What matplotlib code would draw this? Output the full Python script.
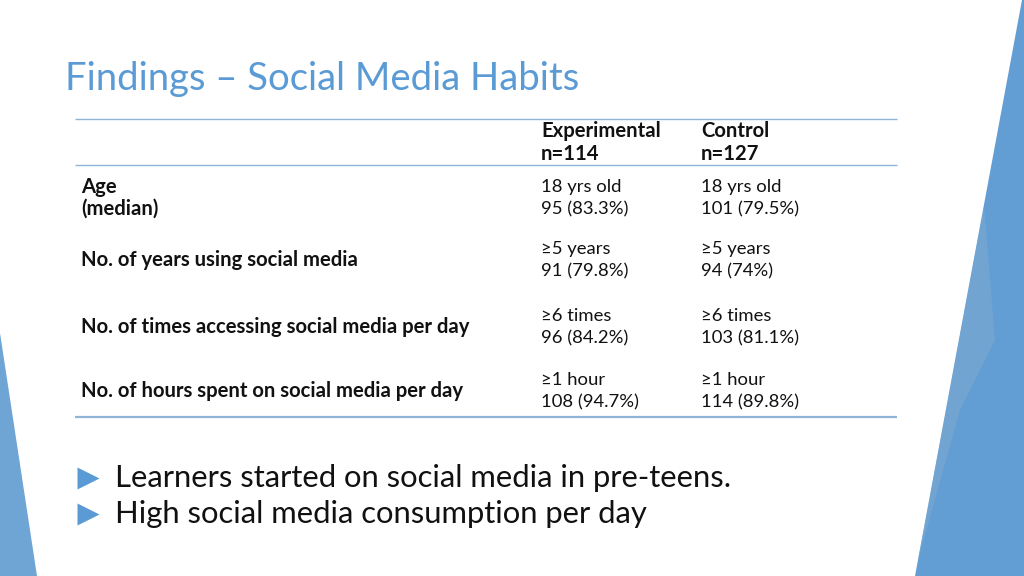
import matplotlib
matplotlib.use("Agg")
import matplotlib.pyplot as plt
from matplotlib.patches import Polygon

# ---- slide content ----
title = "Findings \u2013 Social Media Habits"
col_heads = [("Experimental", "n=114"), ("Control", "n=127")]
row_labels = [("Age", "(median)"),
              ("No. of years using social media",),
              ("No. of times accessing social media per day",),
              ("No. of hours spent on social media per day",)]
exp_vals = [("18 yrs old", "95 (83.3%)"),
            ("\u22655 years", "91 (79.8%)"),
            ("\u22656 times", "96 (84.2%)"),
            ("\u22651 hour", "108 (94.7%)")]
ctl_vals = [("18 yrs old", "101 (79.5%)"),
            ("\u22655 years", "94 (74%)"),
            ("\u22656 times", "103 (81.1%)"),
            ("\u22651 hour", "114 (89.8%)")]
bullets = ["Learners started on social media in pre-teens.",
           "High social media consumption per day"]

# ---- layout (pixels) ----
W, H = 1024, 576
blue = "#5b9bd5"
line_col = "#8fb4d8"
font = "Lato"
txt = "#111111"

fig = plt.figure(figsize=(W / 100, H / 100), dpi=100)
ax = fig.add_axes([0, 0, 1, 1])
ax.set_xlim(0, W)
ax.set_ylim(H, 0)
ax.axis("off")

# background facets
ax.add_patch(Polygon([(1022, 0), (1024, 0), (1024, 576), (915, 576)],
                     closed=True, fc="#629ed3", ec="none"))
ax.add_patch(Polygon([(984, 207), (995, 340), (960, 410), (918, 560)],
                     closed=True, fc="#86acd0", ec="none", alpha=0.45))
ax.add_patch(Polygon([(0, 333), (37, 576), (0, 576)],
                     closed=True, fc="#6ea5d5", ec="none"))

# title
ax.text(65, 79, title, fontsize=27.5, color=blue, family=font,
        va="center", ha="left")

# table rules
for y, lw in [(119, 1.0), (165, 1.0), (417, 1.6)]:
    ax.plot([75, 897], [y, y], color=line_col, lw=lw, solid_capstyle="butt")

fs_b = 14.6
fs_r = 13.3
col_x = [541, 701]
for cx, (h1, h2) in zip(col_x, col_heads):
    ax.text(cx, 131, h1, fontsize=fs_b, weight="bold", family=font, va="center", color=txt)
    ax.text(cx, 154, h2, fontsize=fs_b, weight="bold", family=font, va="center", color=txt)

row_y = [198, 260, 327, 391]
for ry, lab, ev, cv in zip(row_y, row_labels, exp_vals, ctl_vals):
    if len(lab) == 2:
        ax.text(81, ry - 11, lab[0], fontsize=fs_b, weight="bold", family=font, va="center", color=txt)
        ax.text(81, ry + 11, lab[1], fontsize=fs_b, weight="bold", family=font, va="center", color=txt)
    else:
        ax.text(81, ry, lab[0], fontsize=fs_b, weight="bold", family=font, va="center", color=txt)
    for cx, v in zip(col_x, [ev, cv]):
        ax.text(cx, ry - 11, v[0], fontsize=fs_r, family=[font, "DejaVu Sans"], va="center", color=txt)
        ax.text(cx, ry + 11, v[1], fontsize=fs_r, family=font, va="center", color=txt)

# bullets
for i, b in enumerate(bullets):
    y = 478 + 36 * i
    ax.plot(88, y, marker=">", ms=16, color=blue, mec="none")
    ax.text(115, y, b, fontsize=22.3, family=font, va="center", color=txt)

fig.savefig("out.png", dpi=100)
